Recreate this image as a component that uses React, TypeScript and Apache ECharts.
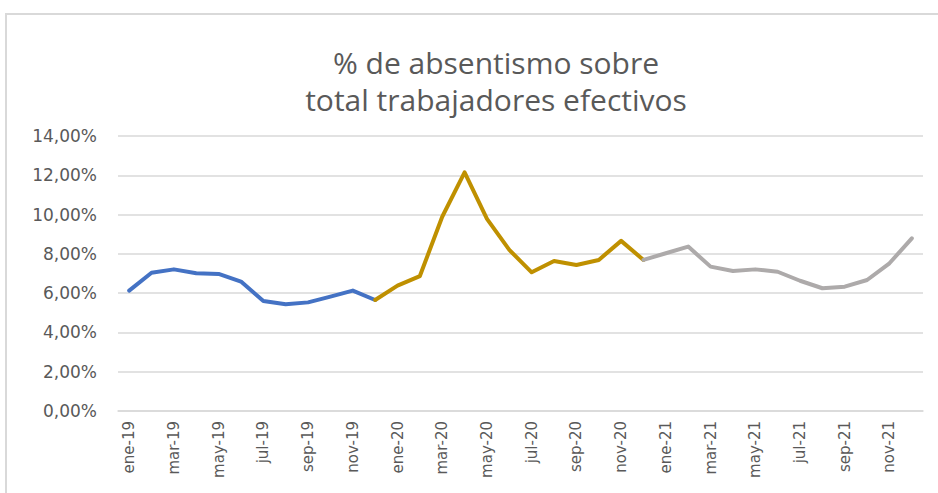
import React, { useEffect, useRef } from "react";
import * as echarts from "echarts";

const titleLines = ["% de absentismo sobre", "total trabajadores efectivos"];
const months = ["ene", "feb", "mar", "abr", "may", "jun", "jul", "ago", "sep", "oct", "nov", "dic"];
const years = ["19", "20", "21"];
const categories: string[] = years.flatMap((y) => months.map((m) => `${m}-${y}`));

const values2019 = [6.13, 7.04, 7.21, 7.01, 6.98, 6.59, 5.6, 5.43, 5.53, 5.82, 6.13, 5.65];
const values2020 = [6.38, 6.87, 9.89, 12.15, 9.78, 8.2, 7.06, 7.64, 7.43, 7.69, 8.66, 7.69];
const values2021 = [8.03, 8.37, 7.35, 7.13, 7.21, 7.09, 6.63, 6.25, 6.33, 6.67, 7.52, 8.79];

const colors = ["#4472C4", "#BF9000", "#ADAAAA"];

export default function App() {
  const ref = useRef<HTMLDivElement>(null);
  useEffect(() => {
    if (!ref.current) return;
    const chart = echarts.init(ref.current, undefined, { renderer: "svg" });
    const pad = (n: number) => Array(n).fill(null);
    const s2019 = [...values2019, ...pad(24)];
    const s2020 = [...pad(11), values2019[11], ...values2020, ...pad(12)];
    const s2021 = [...pad(23), values2020[11], ...values2021];
    const mk = (name: string, data: (number | null)[], color: string) => ({
      name,
      type: "line",
      data,
      symbol: "none",
      connectNulls: false,
      lineStyle: { color, width: 4, cap: "round", join: "round" },
      itemStyle: { color },
    });
    const tStyle = {
      fontFamily: "Open Sans",
      fontWeight: "normal",
      fontSize: 30,
      lineHeight: 37,
      color: "#595959",
    };
    chart.setOption({
      animation: false,
      backgroundColor: "#ffffff",
      title: {
        text: titleLines[0],
        subtext: titleLines[1],
        left: 491,
        top: 39,
        itemGap: 0,
        textAlign: "center",
        textStyle: tStyle,
        subtextStyle: tStyle,
      },
      graphic: [
        {
          type: "polyline",
          shape: { points: [[6, 493], [6, 14], [938, 14]] },
          style: { stroke: "#d9d9d9", lineWidth: 2, fill: "none" },
        },
      ],
      grid: { left: 118, right: 15, top: 136, bottom: 82 },
      xAxis: {
        type: "category",
        data: categories,
        boundaryGap: true,
        axisLine: { lineStyle: { color: "#d9d9d9", width: 1.5 } },
        axisTick: { interval: 1, length: 5, lineStyle: { color: "#d9d9d9", width: 1.5 } },
        axisLabel: {
          interval: 1,
          rotate: 90,
          margin: 10,
          color: "#595959",
          fontSize: 15,
          fontFamily: "DejaVu Sans",
        },
      },
      yAxis: {
        type: "value",
        min: 0,
        max: 14,
        interval: 2,
        axisLine: { show: false },
        axisTick: { show: false },
        splitLine: { lineStyle: { color: "#d9d9d9", width: 1.5 } },
        axisLabel: {
          margin: 21,
          color: "#595959",
          fontSize: 17,
          fontFamily: "DejaVu Sans",
          formatter: (v: number) => v.toFixed(2).replace(".", ",") + "%",
        },
      },
      series: [mk("2019", s2019, colors[0]), mk("2020", s2020, colors[1]), mk("2021", s2021, colors[2])],
    });
    return () => chart.dispose();
  }, []);
  return <div ref={ref} style={{ position: "fixed", left: 0, top: 0, width: 938, height: 493 }} />;
}
